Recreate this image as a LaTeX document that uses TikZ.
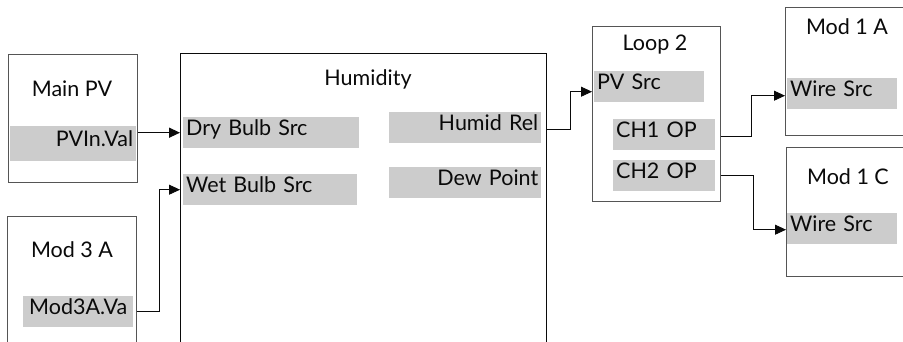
\documentclass[tikz,border=0pt]{standalone}
\usepackage{fontspec}
\setmainfont{Lato}
\usepackage{tikz}
\usetikzlibrary{positioning,calc,arrows.meta}
\definecolor{ink}{RGB}{10,10,10}
\definecolor{frame}{RGB}{85,85,85}
\definecolor{cBar}{RGB}{204,204,204}

\begin{document}
\begin{tikzpicture}[
  x=1pt, y=-1pt,
  font=\fontsize{21.5}{25}\selectfont,
  >={Triangle[length=11pt, width=10pt]},
  blk/.style={draw=frame, line width=0.9pt, fill=white, anchor=north west, inner sep=0pt},
  mainblk/.style={blk, draw=ink, line width=1.4pt},
  ttl/.style={inner sep=0pt, text=ink},
  bar/.style={fill=cBar, anchor=north west, inner xsep=3pt, inner ysep=0pt,
    text height=0.77em, text depth=0.13em, minimum height=31pt, text=ink},
  wire/.style={->, draw=ink, line width=0.8pt},
]
\useasboundingbox (0,0) rectangle (903,342);

% ---- source blocks (left) ----
\node[blk, minimum width=129pt, minimum height=128pt] (MPV) at (8,54) {};
\node[ttl] (MPVt) at (72,89) {Main PV};
\node[bar, text width=120pt, align=right, minimum height=35pt] (PVIN) at (10,126) {PVIn.Val};

\node[blk, minimum width=129pt, minimum height=140pt] (M3A) at (7,216) {};
\node[ttl] (M3At) at (72,250) {Mod 3 A};
\node[bar, text width=104pt, align=center] (M3AV) at (23,296) {Mod3A.Va};

% ---- humidity block ----
\node[mainblk, minimum width=366pt, minimum height=300pt] (HUM) at (180,53) {};
\node[ttl] (HUMt) at (368,79) {Humidity};
\node[bar, text width=170pt, align=left] (DRY) at (183,117) {Dry Bulb Src};
\node[bar, text width=168pt, align=left] (WET) at (183,174) {Wet Bulb Src};
\node[bar, text width=146pt, align=right] (REL) at (389,112) {Humid Rel};
\node[bar, text width=146pt, align=right] (DEW) at (389,167) {Dew Point};

% ---- loop block ----
\node[blk, minimum width=128pt, minimum height=175pt] (L2) at (592,26) {};
\node[ttl] (L2t) at (655,45) {Loop 2};
\node[bar, text width=104pt, align=left] (PVS) at (594,71) {PV Src};
\node[bar, text width=96pt, align=left] (CH1) at (613,119) {CH1 OP};
\node[bar, text width=96pt, align=left] (CH2) at (613,160) {CH2 OP};

% ---- output modules (right) ----
\node[blk, minimum width=140pt, minimum height=128pt] (M1A) at (785,7) {};
\node[ttl] (M1At) at (847,27) {Mod 1 A};
\node[bar, text width=104pt, align=left] (WSA) at (787,78) {Wire Src};

\node[blk, minimum width=140pt, minimum height=129pt] (M1C) at (786,147) {};
\node[ttl] (M1Ct) at (848,177) {Mod 1 C};
\node[bar, text width=104pt, align=left] (WSC) at (787,213) {Wire Src};

% ---- connections ----
\draw[wire, line width=1.4pt] (MPV.east |- DRY.west) -- (HUM.west |- DRY.west);
\draw[wire] (M3AV.east -| M3A.east) -- ++(22,0) |- (HUM.west |- WET.west);
\draw[wire] ($(REL.east -| HUM.east)+(0,2)$) -- ++(23,0) |- ($(L2.west |- PVS.west)+(0,5)$);
\draw[wire] ($(CH1.east -| L2.east)+(0,2)$) -- ++(30,0) |- ($(M1A.west |- WSA.west)+(0,2)$);
\draw[wire] (CH2.east -| L2.east) -- ++(32,0) |- ($(M1C.west |- WSC.west)+(0,1)$);

\end{tikzpicture}
\end{document}
